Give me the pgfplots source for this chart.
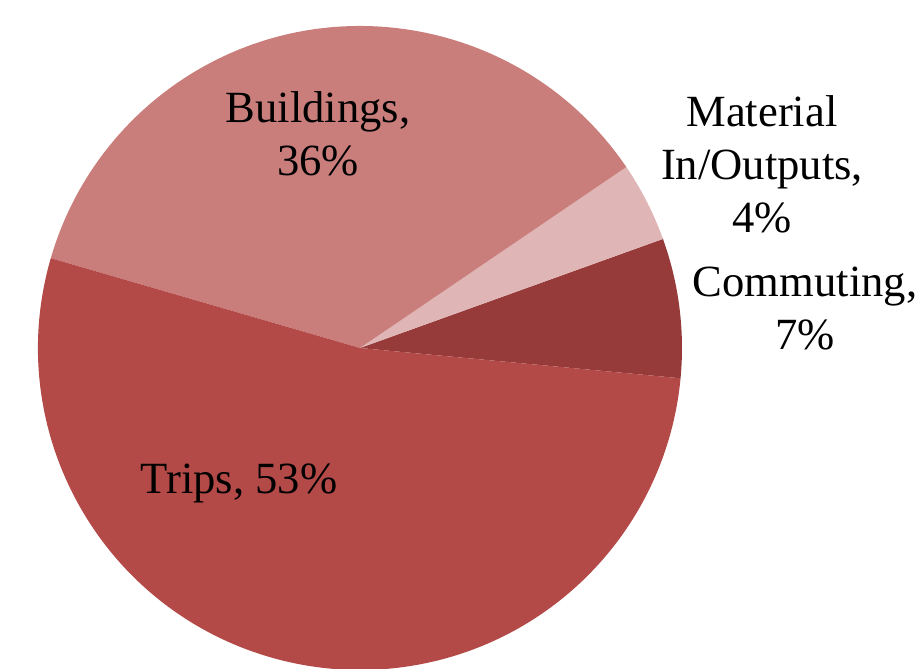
\documentclass[border=0pt]{standalone}
\usepackage{pgfplots}
\usepackage{pgfplotstable}
\pgfplotsset{compat=1.18}
\usepackage{fontspec}
\setmainfont{Liberation Serif}

\definecolor{trips}{HTML}{B34A48}
\definecolor{build}{HTML}{CA7E7C}
\definecolor{matio}{HTML}{DFB5B5}
\definecolor{comm}{HTML}{963A3A}

\tikzset{lbl/.style={font=\fontsize{22.3}{26.5}\selectfont, align=center, inner sep=0pt}}

% share of each source, in percent (counter-clockwise from the right)
\pgfplotstableread{
label pct
Commuting 7
Material 4
Buildings 36
Trips 53
}\piedata

\begin{document}
\begin{tikzpicture}
  \pgfplotstablegetelem{0}{pct}\of\piedata \let\pA\pgfplotsretval
  \pgfplotstablegetelem{1}{pct}\of\piedata \let\pB\pgfplotsretval
  \pgfplotstablegetelem{2}{pct}\of\piedata \let\pC\pgfplotsretval
  \pgfplotstablegetelem{3}{pct}\of\piedata \let\pD\pgfplotsretval
  \pgfmathsetmacro\aA{-5.4}
  \pgfmathsetmacro\aB{\aA+3.6*\pA}
  \pgfmathsetmacro\aC{\aB+3.6*\pB}
  \pgfmathsetmacro\aD{\aC+3.6*\pC}
  \pgfmathsetmacro\aE{\aD+3.6*\pD}
  \def\rad{161pt}
  \begin{axis}[
      width=461pt, height=334.5pt,
      scale only axis,
      xmin=0, xmax=922, ymin=0, ymax=669,
      hide axis,
      clip=true,
    ]
    \fill[comm]  (axis cs:360,321) -- ++(\aA:\rad) arc[start angle=\aA, end angle=\aB, radius=\rad] -- cycle;
    \fill[matio] (axis cs:360,321) -- ++(\aB:\rad) arc[start angle=\aB, end angle=\aC, radius=\rad] -- cycle;
    \fill[build] (axis cs:360,321) -- ++(\aC:\rad) arc[start angle=\aC, end angle=\aD, radius=\rad] -- cycle;
    \fill[trips] (axis cs:360,321) -- ++(\aD:\rad) arc[start angle=\aD, end angle=\aE, radius=\rad] -- cycle;

    \node[lbl] at (axis cs:239,186) {Trips, 53\%};
    \node[lbl] at (axis cs:318,535) {Buildings,\\36\%};
    \node[lbl] at (axis cs:762,505) {Material\\In/Outputs,\\4\%};
    \node[lbl] at (axis cs:805,360) {Commuting,\\7\%};
  \end{axis}
  \pgfresetboundingbox
  \path (current axis.south west) rectangle (current axis.north east);
\end{tikzpicture}
\end{document}
